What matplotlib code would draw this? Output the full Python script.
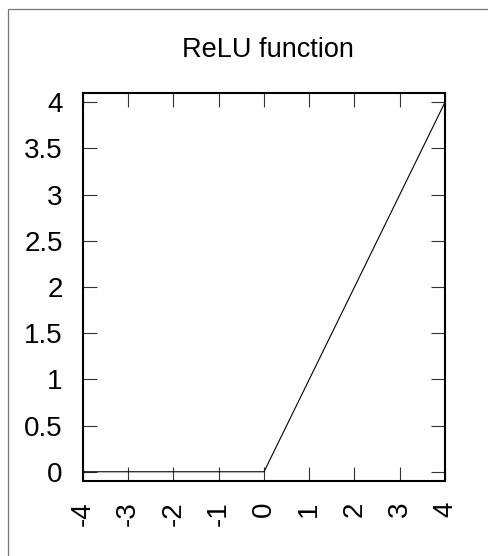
import numpy as np
import matplotlib
matplotlib.use('Agg')
import matplotlib.pyplot as plt
from matplotlib.patches import Rectangle

plt.rcParams['font.family'] = ['Liberation Sans', 'DejaVu Sans']

# ReLU sampled at its breakpoints
x_vals = [-4, 0, 4]
y_vals = [0, 0, 4]
xticks = [-4, -3, -2, -1, 0, 1, 2, 3, 4]
yticks = [0, 0.5, 1, 1.5, 2, 2.5, 3, 3.5, 4]
ytick_labels = ['0', '0.5', '1', '1.5', '2', '2.5', '3', '3.5', '4']

fig = plt.figure(figsize=(4.89, 5.56), dpi=100)
ax = fig.add_axes([83/489, 1 - 481/556, (445 - 83)/489, (481 - 93)/556])

# page frame, only left and top visible
fig.patches.append(Rectangle((8/489, -0.5), 2, 1.5 - 9/556,
                             transform=fig.transFigure, fill=False,
                             edgecolor='#777777', linewidth=0.9))

ax.plot(x_vals, y_vals, color='black', linewidth=0.8)

ax.set_xlim(-4, 4)
ax.set_ylim(-0.1, 4.1)
ax.set_xticks(xticks)
ax.set_xticklabels([str(t) for t in xticks], rotation=90)
ax.set_yticks(yticks)
ax.set_yticklabels(ytick_labels)
ax.tick_params(direction='in', length=10, width=0.8, color='#333333',
               top=True, right=True, labelsize=20, pad=14.5)
for s in ax.spines.values():
    s.set_linewidth(1.5)

fig.text(268/489, 1 - 57/556, 'ReLU function', ha='center', va='baseline',
         fontsize=19.5)

fig.savefig('out.png', dpi=100)
